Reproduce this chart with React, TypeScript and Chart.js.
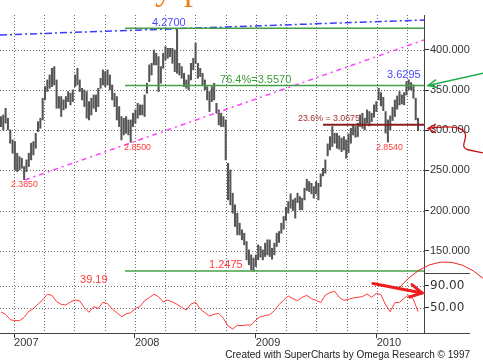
import React, { useEffect, useRef } from 'react';
import Chart from 'chart.js/auto';

// ---- time frame (decimal years) ----
const FIRST_WEEK = 2006.892;
const WEEK = 7 / 365.25;
const X_MIN = 2006.884;
const X_MAX = 2010.391;

// ---- weekly price bars (US cents / lb) ----
const highs = [
  317.1, 319.1, 327.4, 315.0, 300.5, 288.0, 285.9, 271.4, 267.2, 265.2,
  254.8, 263.1, 271.4, 283.9, 285.9, 296.3, 310.8, 315.0, 339.9, 354.4,
  362.7, 368.9, 377.2, 379.3, 362.7, 342.0, 342.0, 337.8, 342.0, 348.2,
  346.1, 350.3, 368.9, 377.2, 362.7, 352.3, 350.3, 348.2, 335.7, 339.9,
  344.0, 344.0, 352.3, 364.8, 375.2, 373.1, 375.2, 368.9, 356.5, 346.1,
  342.0, 329.5, 317.1, 315.0, 317.1, 312.9, 312.9, 321.2, 325.4, 333.6,
  331.6, 331.6, 344.0, 358.6, 381.4, 383.4, 400.0, 395.9, 391.7, 379.3,
  395.9, 404.2, 402.1, 402.1, 402.1, 400.0, 427.0, 383.4, 379.3, 371.0,
  362.7, 368.9, 383.4, 389.7, 408.4, 383.4, 377.2, 371.0, 362.7, 354.4,
  348.2, 354.4, 358.6, 333.6, 325.4, 321.2, 317.1, 312.9, 258.9, 250.6,
  221.6, 207.1, 196.7, 184.3, 176.0, 171.8, 161.4, 151.0, 144.8, 140.7,
  144.8, 157.3, 155.2, 151.0, 159.3, 163.5, 163.5, 153.1, 159.3, 171.8,
  173.9, 184.3, 192.6, 204.2, 211.2, 220.8, 213.3, 215.4, 221.6, 217.4,
  215.4, 227.8, 239.0, 236.1, 234.0, 229.9, 236.1, 234.0, 245.7, 252.7,
  263.1, 283.0, 292.1, 304.6, 296.3, 296.3, 293.0, 290.1, 292.1, 288.0,
  295.5, 302.5, 306.7, 304.6, 308.8, 319.1, 321.2, 315.0, 325.4, 323.3,
  321.2, 331.6, 335.7, 352.3, 346.9, 341.1, 323.3, 312.9, 317.9, 328.7,
  337.8, 342.8, 348.2, 344.0, 346.9, 360.6, 362.95, 359.4, 356.5, 339.9,
  315.0,
];
const lows = [
  304.6, 300.5, 308.8, 300.5, 283.9, 271.4, 250.6, 248.6, 250.6, 252.7,
  238.5, 248.6, 254.8, 263.1, 269.3, 277.6, 298.4, 302.5, 312.9, 337.8,
  348.2, 352.3, 354.4, 356.5, 327.4, 327.4, 317.1, 325.4, 327.4, 335.7,
  331.6, 335.7, 354.4, 356.5, 348.2, 337.8, 329.5, 315.0, 312.9, 319.1,
  327.4, 323.3, 329.5, 352.3, 356.5, 354.4, 356.5, 350.3, 337.8, 329.5,
  312.9, 304.6, 288.0, 294.2, 296.3, 294.2, 285.0, 304.6, 308.8, 315.0,
  319.1, 319.1, 317.1, 346.1, 360.6, 368.9, 381.4, 381.4, 348.2, 358.6,
  377.2, 387.6, 389.7, 391.7, 383.4, 373.1, 371.0, 368.9, 364.8, 354.4,
  352.3, 350.3, 362.7, 375.2, 383.4, 364.8, 366.9, 356.5, 350.3, 337.8,
  323.3, 335.7, 337.8, 321.2, 306.7, 304.6, 304.6, 263.1, 213.3, 207.1,
  196.7, 180.1, 169.7, 169.7, 163.5, 157.3, 138.6, 132.4, 126.1, 124.75,
  130.3, 138.6, 141.9, 138.6, 142.7, 144.8, 142.7, 139.4, 144.8, 155.2,
  160.2, 171.8, 176.8, 187.6, 196.7, 202.9, 200.0, 190.5, 210.0, 200.9,
  200.9, 213.3, 224.9, 223.7, 220.8, 215.4, 220.8, 213.3, 229.9, 243.2,
  246.5, 268.1, 275.5, 279.7, 283.9, 277.6, 276.4, 273.5, 275.5, 265.2,
  272.2, 283.9, 294.2, 291.3, 292.1, 304.6, 302.5, 300.5, 308.8, 305.4,
  310.8, 316.2, 323.3, 337.8, 330.3, 324.5, 296.3, 285.4, 300.5, 312.1,
  317.1, 326.2, 331.6, 332.8, 331.6, 344.0, 350.3, 350.3, 339.9, 312.9,
  299.6,
];

// ---- lower-panel oscillator, one reading every second week ----
const oscillator = [
  42.2, 37.9, 28.2, 26.4, 26.4, 32.4, 43.4, 48.3, 56.8, 64.1,
  74.5, 72.6, 61.0, 56.2, 55.0, 60.5, 64.1, 62.3, 50.1, 41.6,
  51.9, 48.9, 59.8, 57.4, 47.7, 41.0, 33.6, 38.5, 41.0, 48.9,
  51.9, 62.9, 68.4, 74.5, 70.2, 60.5, 64.1, 60.5, 56.2, 50.7,
  45.8, 56.8, 59.8, 47.7, 41.0, 34.9, 37.9, 39.7, 30.6, 16.6,
  11.1, 17.8, 17.2, 18.4, 18.4, 27.6, 33.6, 35.5, 37.3, 44.6,
  55.6, 64.1, 71.4, 66.5, 62.9, 69.0, 72.6, 66.5, 63.5, 59.2,
  73.2, 77.5, 79.9, 69.0, 63.5, 65.3, 67.7, 69.0, 70.2, 75.1,
  69.0, 76.3, 73.8, 55.0, 42.8, 59.2, 59.8, 67.1, 73.2, 65.3,
  42.8,
];

// ---- axes ----
const priceTicks = [150, 200, 250, 300, 350, 400];
const oscTicks = [50, 90];
const years = [2007, 2008, 2009, 2010];
const quarterTicks = years.flatMap((y) => [y, y + 0.25, y + 0.5, y + 0.75]).filter((v) => v <= X_MAX);

// ---- drawn analysis levels / trendlines ----
const levelStart = 2007.918;
const high4270 = 427.0;
const fib764 = 355.7;
const low1247 = 124.75;
const fib236 = 306.75;
const fib236Start = 2009.556;
const blueTrend = [
  { x: X_MIN, y: 418.7 },
  { x: X_MAX, y: 437.4 },
];
const magentaTrend = [
  { x: 2007.091, y: 238.1 },
  { x: X_MAX, y: 412.5 },
];

const textLabels = [
  { text: '4.2700', x: 2008.141, y: 433.6, color: '#4848ff', size: 11, axis: 'y' },
  { text: '76.4%=3.5570', x: 2008.704, y: 362.6, color: '#3c9c3c', size: 11, axis: 'y' },
  { text: '3.6295', x: 2010.085, y: 368.9, color: '#4848ff', size: 11, axis: 'y' },
  { text: '23.6% = 3.0675', x: 2009.349, y: 314.1, color: '#a03030', size: 8.8, axis: 'y' },
  { text: '2.8540', x: 2009.994, y: 278.8, color: '#ff3c3c', size: 8.8, axis: 'y' },
  { text: '2.8500', x: 2007.91, y: 278.3, color: '#ff3c3c', size: 8.8, axis: 'y' },
  { text: '2.3850', x: 2006.975, y: 232.3, color: '#ff3c3c', size: 8.8, axis: 'y' },
  { text: '1.2475', x: 2008.613, y: 132.3, color: '#ff3c3c', size: 11, axis: 'y' },
  { text: '39.19', x: 2007.546, y: 100.6, color: '#ff3c3c', size: 11, axis: 'y2' },
];

const SANS = '"Liberation Sans", Arial, sans-serif';
const GRID = '#6e6e6e';

function arrowHead(ctx: CanvasRenderingContext2D, tx: number, ty: number, fx: number, fy: number, len: number, ang: number) {
  const a = Math.atan2(fy - ty, fx - tx);
  ctx.beginPath();
  ctx.moveTo(tx + len * Math.cos(a + ang), ty + len * Math.sin(a + ang));
  ctx.lineTo(tx, ty);
  ctx.lineTo(tx + len * Math.cos(a - ang), ty + len * Math.sin(a - ang));
  ctx.stroke();
}

// dotted grid drawn from the scales' own ticks
const dottedGrid = {
  id: 'dottedGrid',
  beforeDatasetsDraw(chart: any) {
    const { ctx, chartArea: a, scales } = chart;
    ctx.save();
    ctx.strokeStyle = GRID;
    ctx.lineWidth = 1;
    ctx.setLineDash([1, 2]);
    ctx.beginPath();
    for (const t of scales.x.ticks) {
      const px = Math.round(scales.x.getPixelForValue(t.value)) + 0.5;
      ctx.moveTo(px, a.top);
      ctx.lineTo(px, a.bottom);
    }
    for (const id of ['y', 'y2']) {
      const s = scales[id];
      for (const t of s.ticks) {
        const py = Math.round(s.getPixelForValue(t.value)) + 0.5;
        ctx.moveTo(a.left, py);
        ctx.lineTo(a.right, py);
      }
    }
    ctx.stroke();
    ctx.restore();
  },
};

const overlay = {
  id: 'overlay',
  afterDatasetsDraw(chart: any) {
    const { ctx, chartArea: a, scales } = chart;
    const r = a.right;
    ctx.save();
    // labels
    ctx.textAlign = 'left';
    ctx.textBaseline = 'middle';
    for (const l of textLabels) {
      const sc = scales[l.axis];
      ctx.font = `${l.size}px ${SANS}`;
      ctx.fillStyle = l.color;
      ctx.fillText(l.text, scales.x.getPixelForValue(l.x), sc.getPixelForValue(l.y));
    }
    // extended axis lines in the scale area
    ctx.strokeStyle = '#444';
    ctx.lineWidth = 1;
    ctx.beginPath();
    ctx.moveTo(r, Math.round(a.bottom) + 0.5);
    ctx.lineTo(r + 46, Math.round(a.bottom) + 0.5);
    ctx.moveTo(r, Math.round(scales.y.bottom) + 0.5);
    ctx.lineTo(r + 46, Math.round(scales.y.bottom) + 0.5);
    ctx.stroke();

    // green arrow
    ctx.strokeStyle = '#1fae4c';
    ctx.lineWidth = 1.5;
    ctx.beginPath();
    ctx.moveTo(r + 60, 73);
    ctx.lineTo(r + 4, 85.5);
    ctx.stroke();
    arrowHead(ctx, r + 4, 85.5, r + 60, 73, 10, 0.42);

    // dark red curved arrow
    ctx.strokeStyle = '#c41212';
    ctx.lineWidth = 1.3;
    ctx.beginPath();
    ctx.moveTo(r + 4, 128.5);
    ctx.bezierCurveTo(r + 22, 126, r + 38, 126, r + 41, 133);
    ctx.bezierCurveTo(r + 44, 140, r + 34, 147, r + 45, 150);
    ctx.lineTo(r + 60, 153);
    ctx.stroke();
    arrowHead(ctx, r + 4, 128.5, r + 20, 128.5, 9, 0.5);

    // thick red arrow in the lower panel
    ctx.strokeStyle = '#ee1c1c';
    ctx.lineWidth = 3;
    ctx.lineCap = 'round';
    ctx.beginPath();
    ctx.moveTo(r - 51, 283.5);
    ctx.lineTo(r - 2, 293);
    ctx.stroke();
    arrowHead(ctx, r - 2, 293, r - 51, 283.5, 13, 0.5);

    // thin red arc
    ctx.lineWidth = 1;
    ctx.strokeStyle = '#ee2020';
    ctx.beginPath();
    ctx.moveTo(r - 26, 289);
    ctx.quadraticCurveTo(r + 16, 240, r + 60, 279);
    ctx.stroke();

    // orange (cut-off) title
    ctx.fillStyle = '#f08020';
    ctx.font = '36px "Liberation Serif", "Times New Roman", serif';
    ctx.textBaseline = 'alphabetic';
    ctx.textAlign = 'right';
    ctx.fillText('Weekly', 173, -1);
    ctx.textAlign = 'left';
    ctx.fillText('price', 184, -1);

    // credits
    ctx.fillStyle = '#222';
    ctx.font = `10px ${SANS}`;
    ctx.textAlign = 'right';
    ctx.textBaseline = 'middle';
    ctx.fillText('Created with SuperCharts by Omega Research \u00a9 1997', r + 46, 355.5);
    ctx.restore();
  },
};

function levelLine(value: number, from: number, color: string, width: number) {
  return {
    type: 'line' as const,
    data: [
      { x: from, y: value },
      { x: X_MAX, y: value },
    ],
    borderColor: color,
    borderWidth: width,
    pointRadius: 0,
    yAxisID: 'y',
    order: 1,
  };
}

export default function App() {
  const ref = useRef<HTMLCanvasElement>(null);
  useEffect(() => {
    document.body.style.margin = '0';
    const bars = highs.map((h, i) => ({ x: FIRST_WEEK + i * WEEK, y: [lows[i], h] }));
    const osc = oscillator.map((v, k) => ({ x: FIRST_WEEK + 2 * k * WEEK, y: v }));
    const chart = new Chart(ref.current as HTMLCanvasElement, {
      type: 'bar',
      data: {
        datasets: [
          {
            type: 'bar',
            data: bars as any,
            backgroundColor: '#555555',
            barThickness: 1.4,
            yAxisID: 'y',
            order: 10,
          },
          {
            type: 'line',
            data: osc as any,
            borderColor: '#ff3a3a',
            borderWidth: 1,
            pointRadius: 0,
            yAxisID: 'y2',
            order: 5,
          },
          {
            type: 'line',
            data: blueTrend as any,
            borderColor: '#3a3aff',
            borderWidth: 1.5,
            borderDash: [7, 3, 2, 3],
            pointRadius: 0,
            yAxisID: 'y',
            order: 2,
          },
          {
            type: 'line',
            data: magentaTrend as any,
            borderColor: '#ff40ff',
            borderWidth: 1.5,
            borderDash: [5, 4, 2, 4],
            pointRadius: 0,
            yAxisID: 'y',
            order: 2,
          },
          levelLine(high4270, levelStart, '#46a046', 1.5) as any,
          levelLine(fib764, levelStart, '#46a046', 1.5) as any,
          levelLine(low1247, levelStart, '#46a046', 1.5) as any,
          levelLine(fib236, fib236Start, '#8c1c1c', 2) as any,
        ],
      },
      options: {
        responsive: false,
        animation: false,
        devicePixelRatio: 1,
        layout: { padding: { top: 15, left: 0, right: 0, bottom: 0 } },
        plugins: { legend: { display: false }, tooltip: { enabled: false } },
        scales: {
          x: {
            type: 'linear',
            min: X_MIN,
            max: X_MAX,
            offset: false,
            afterBuildTicks: (s: any) => {
              s.ticks = quarterTicks.map((v) => ({ value: v }));
            },
            afterFit: (s: any) => {
              s.height = 30;
            },
            ticks: {
              autoSkip: false,
              maxRotation: 0,
              minRotation: 0,
              align: 'start',
              padding: -2,
              color: '#333',
              font: { family: SANS, size: 11 },
              callback: (v: any) => (Number.isInteger(Number(v)) ? String(v) : ''),
            },
            grid: {
              offset: false,
              drawOnChartArea: false,
              color: GRID,
              drawTicks: true,
              tickLength: 5,
              tickColor: (c: any) => (c.tick && Number.isInteger(c.tick.value) ? '#333' : 'rgba(0,0,0,0)'),
            },
            border: { display: true, color: '#444', width: 1 },
          },
          y: {
            type: 'linear',
            position: 'right',
            stack: 'panes',
            stackWeight: 258,
            min: 122.2,
            max: 443.6,
            afterBuildTicks: (s: any) => {
              s.ticks = priceTicks.map((v) => ({ value: v }));
            },
            afterFit: (s: any) => {
              s.width = 59;
            },
            ticks: {
              padding: 1,
              color: '#333',
              font: { family: SANS, size: 11 },
              callback: (v: any) => Number(v).toFixed(3),
            },
            grid: { drawOnChartArea: false, color: GRID, tickLength: 5, tickColor: '#333' },
            border: { display: true, color: '#444', width: 1 },
          },
          y2: {
            type: 'linear',
            position: 'right',
            stack: 'panes',
            stackWeight: 60,
            min: 3.8,
            max: 113.4,
            afterBuildTicks: (s: any) => {
              s.ticks = oscTicks.map((v) => ({ value: v }));
            },
            afterFit: (s: any) => {
              s.width = 59;
            },
            ticks: {
              padding: 1,
              color: '#333',
              font: { family: '"DejaVu Sans", sans-serif', size: 12 },
              callback: (v: any) => Number(v).toFixed(2),
            },
            grid: { drawOnChartArea: false, color: GRID, tickLength: 5, tickColor: '#333' },
            border: { display: true, color: '#444', width: 1 },
          },
        },
      } as any,
      plugins: [dottedGrid, overlay],
    });
    return () => chart.destroy();
  }, []);
  return (
    <div style={{ width: 483, height: 363 }}>
      <canvas ref={ref} width={483} height={363} style={{ display: 'block' }} />
    </div>
  );
}
